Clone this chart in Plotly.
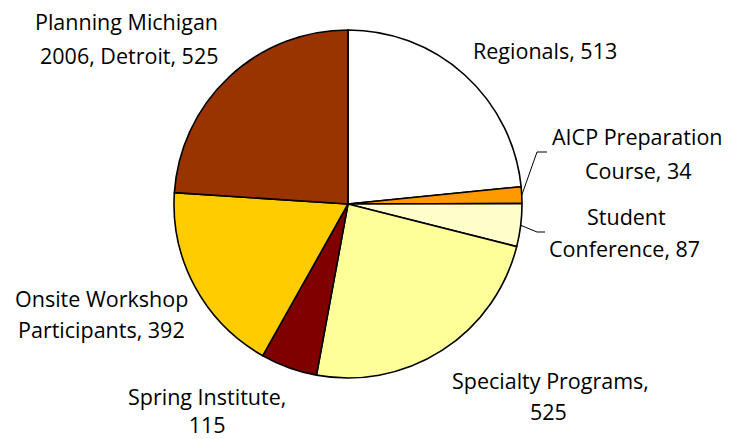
import math
import plotly.graph_objects as go

labels = ["Regionals", "AICP Preparation Course", "Student Conference",
          "Specialty Programs", "Spring Institute", "Onsite Workshop Participants",
          "Planning Michigan 2006, Detroit"]
values = [513, 34, 87, 525, 115, 392, 525]
colors = ["#FFFFFF", "#FF9900", "#FFFFCC", "#FFFF99", "#800000", "#FFCC00", "#993300"]

# label text lines (per slice) and their pixel centres (screen coords)
label_lines = [
    ["Regionals, 513"],
    ["AICP Preparation", "Course, 34"],
    ["Student", "Conference, 87"],
    ["Specialty Programs,", "525"],
    ["Spring Institute,<br>115"],
    ["Onsite Workshop", "Participants, 392"],
    ["Planning Michigan", "2006, Detroit, 525"],
]
label_pos = [
    [(545, 51)],
    [(637, 137), (638, 170)],
    [(626, 216), (624, 248)],
    [(550, 380), (548, 411)],
    [(207, 410)],
    [(102, 298), (102, 329)],
    [(127, 21), (129, 55)],
]

OFF = 8  # page body margin
W, H = 737 - OFF, 439 - OFF
CX, CY, R = 348 - OFF, 204 - OFF, 174

fig = go.Figure(go.Pie(
    labels=labels, values=values, sort=False, direction="clockwise", rotation=0,
    marker=dict(colors=colors, line=dict(color="#000000", width=1.6)),
    textinfo="none", hoverinfo="label+value", showlegend=False,
    domain=dict(x=[(CX - R) / W, (CX + R) / W], y=[1 - (CY + R) / H, 1 - (CY - R) / H]),
))

FONT = dict(family="Open Sans, sans-serif", size=21.5, color="#000000")
anns = []
for lines, poss in zip(label_lines, label_pos):
    for t, (px, py) in zip(lines, poss):
        anns.append(dict(text=t, x=(px - OFF) / W, y=1 - (py - OFF) / H,
                         xref="paper", yref="paper", borderpad=0,
                         xanchor="center", yanchor="middle", showarrow=False, font=FONT))

# leader lines for the two small slices, starting at slice mid-angle on the rim
total = sum(values)
cum = 0
shapes = []
ends = {1: [(537, 152), (547, 152)], 2: [(537, 232), (545, 232)]}
for i, v in enumerate(values):
    mid = (cum + v / 2) / total * 2 * math.pi
    cum += v
    if i in ends:
        sx = CX + R * math.sin(mid)
        sy = CY - R * math.cos(mid)
        pts = [(sx, sy)] + [(x - OFF, y - OFF) for x, y in ends[i]]
        for (x0, y0), (x1, y1) in zip(pts[:-1], pts[1:]):
            shapes.append(dict(type="line", xref="paper", yref="paper",
                               x0=x0 / W, y0=1 - y0 / H, x1=x1 / W, y1=1 - y1 / H,
                               line=dict(color="#000000", width=1)))

fig.update_layout(width=W, height=H, autosize=False,
                  margin=dict(l=0, r=0, t=0, b=0),
                  paper_bgcolor="#FFFFFF", plot_bgcolor="#FFFFFF",
                  annotations=anns, shapes=shapes)
fig.write_html("out.html")
